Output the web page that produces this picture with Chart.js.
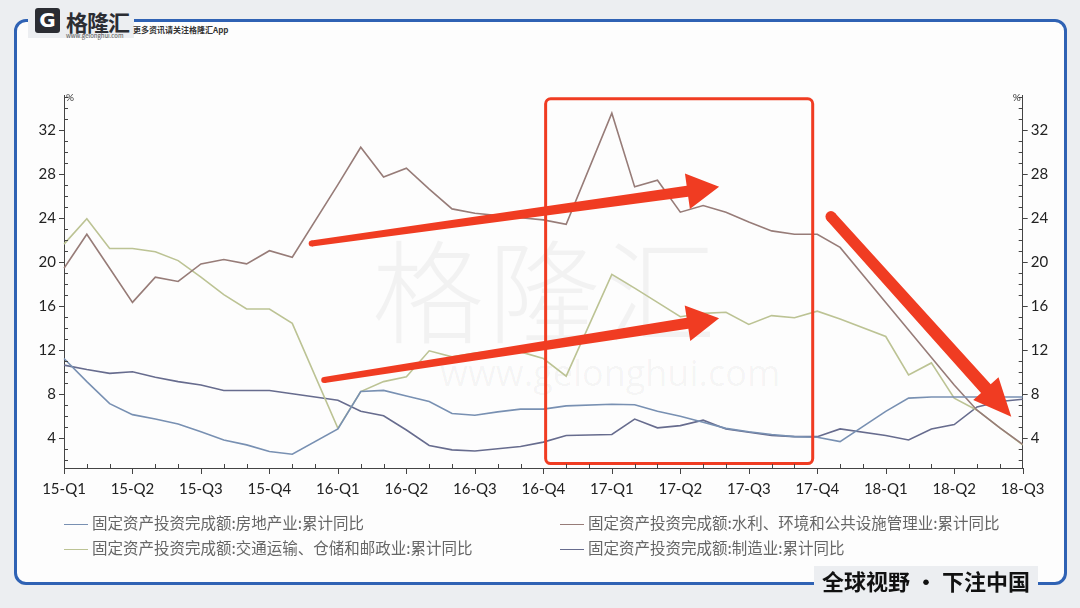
<!DOCTYPE html>
<html lang="zh">
<head>
<meta charset="UTF-8">
<title>固定资产投资完成额 累计同比</title>
<script src="https://cdn.jsdelivr.net/npm/chart.js@4.4.0/dist/chart.umd.min.js"></script>
<style>
  html, body { margin: 0; padding: 0; }
  body { width: 1080px; height: 608px; position: relative; overflow: hidden;
         background: #eceef1; font-family: "Noto Sans CJK SC", "Noto Sans", sans-serif; }
  .frame { position: absolute; left: 14px; top: 19px; width: 1047px; height: 560px;
           border: 3px solid #2f62b4; border-radius: 12px; background: #fdfdfd; }
  .logo { position: absolute; left: 28px; top: 2px; width: 106px; height: 36px; background: #eceef1; }
  .logo .g { position: absolute; left: 7px; top: 6px; width: 25px; height: 25px; background: #2b2d33;
             border-radius: 3px; color: #fff; font: bold 20px/25px "DejaVu Sans", sans-serif; text-align: center; }
  .logo .name { position: absolute; left: 38px; top: 3px; font-size: 22px; font-weight: bold; color: #2b2d33; letter-spacing: -1px; }
  .logo .url { position: absolute; left: 38px; top: 29px; font-size: 6px; color: #555; }
  .tagline { position: absolute; left: 133px; top: 24px; font-size: 8px; font-weight: bold; color: #333; }
  .footer { position: absolute; left: 814px; top: 566px; padding: 0 8px; background: #eceef1;
            font-size: 22px; font-weight: bold; color: #111; line-height: 28px; }
  .wm { position: absolute; color: rgba(0,0,0,0.045); white-space: nowrap; }
  .wm.cn { left: 372px; top: 205px; font-size: 112px; font-weight: 300; letter-spacing: 4px; }
  .wm.en { left: 440px; top: 348px; font-size: 36px; font-family: "Open Sans", sans-serif; }
  #wrap { position: absolute; left: 0; top: 0; width: 1080px; height: 608px; }
  .legend { position: absolute; font-size: 15.5px; color: #666; white-space: nowrap; }
  .legend span.l { display: inline-block; width: 24px; height: 0; border-top: 1.5px solid; vertical-align: middle; margin-right: 4px; }
</style>
</head>
<body>
<div class="frame"></div>
<div class="logo"><div class="g">G</div><div class="name">格隆汇</div><div class="url">www.gelonghui.com</div></div>
<div class="tagline">更多资讯请关注格隆汇App</div>
<div class="wm cn">格隆汇</div>
<div class="wm en">www.gelonghui.com</div>
<div id="wrap"><canvas id="c"></canvas></div>
<div id="legend"></div>
<div class="footer">全球视野 · 下注中国</div>
<script>
// monthly points Feb-2015 .. Aug-2018, January has no figure (null)
const months = [];
for (let y = 2015; y <= 2018; y++) {
  for (let m = 1; m <= 12; m++) {
    if ((y === 2015 && m < 2) || (y === 2018 && m > 8)) continue;
    months.push(y + '-' + String(m).padStart(2, '0'));
  }
}
const quarterLabels = ['15-Q1','15-Q2','15-Q3','15-Q4','16-Q1','16-Q2','16-Q3','16-Q4',
                       '17-Q1','17-Q2','17-Q3','17-Q4','18-Q1','18-Q2','18-Q3'];

const realEstate = [11.2, 9.1, 7.1, 6.1, 5.7, 5.25, 4.55, 3.8, 3.35, 2.75, 2.5, null,
  4.8, 8.2, 8.3, 7.8, 7.3, 6.2, 6.05, 6.35, 6.6, 6.6, 6.9, null,
  7.05, 7.0, 6.4, 5.95, 5.4, 4.85, 4.55, 4.3, 4.1, 4.05, 3.65, null,
  6.4, 7.6, 7.7, 7.7, 7.7, 7.7, 7.7];
const waterEnv = [19.4, 22.5, 19.4, 16.3, 18.6, 18.2, 19.8, 20.2, 19.8, 21.0, 20.4, null,
  27.0, 30.4, 27.7, 28.5, 26.6, 24.8, 24.4, 24.2, 24.0, 23.8, 23.4, null,
  33.5, 26.8, 27.4, 24.5, 25.1, 24.5, 23.6, 22.8, 22.5, 22.5, 21.3, null,
  16.3, 13.8, 11.3, 8.8, 6.5, 4.9, 3.4];
const transport = [21.6, 23.9, 21.2, 21.2, 20.9, 20.1, 18.6, 17.0, 15.7, 15.7, 14.4, null,
  4.85, 8.2, 9.1, 9.55, 11.9, 11.35, 11.7, 11.9, 11.8, 11.2, 9.6, null,
  18.85, 17.6, 16.3, 15.0, 15.3, 15.4, 14.3, 15.1, 14.9, 15.5, 14.8, null,
  13.2, 9.7, 10.8, 7.6, 6.5, 4.9, 3.35];
const manufacturing = [10.6, 10.2, 9.85, 10.0, 9.5, 9.1, 8.8, 8.3, 8.3, 8.3, 8.0, null,
  7.4, 6.4, 6.0, 4.7, 3.3, 2.9, 2.8, 3.0, 3.2, 3.6, 4.2, null,
  4.3, 5.7, 4.9, 5.1, 5.6, 4.8, 4.5, 4.2, 4.1, 4.1, 4.8, null,
  4.2, 3.8, 4.8, 5.2, 6.8, 7.3, 7.5];

const seriesNames = ['固定资产投资完成额:房地产业:累计同比',
                     '固定资产投资完成额:水利、环境和公共设施管理业:累计同比',
                     '固定资产投资完成额:交通运输、仓储和邮政业:累计同比',
                     '固定资产投资完成额:制造业:累计同比'];
const seriesData = [realEstate, waterEnv, transport, manufacturing];
const seriesColors = ['#7890b2', '#977c78', '#bcc394', '#676c8e'];

// hand-drawn red highlights, in (month index, %) units
const box = { x0: 21.1, x1: 32.8, y0: 1.65, y1: 34.8 };
const arrows = [
  { from: [10.85, 21.65], to: [28.7, 26.8], w0: 6, w1: 11, hw: 36, hl: 32 },
  { from: [11.4, 9.25], to: [28.7, 14.85], w0: 6, w1: 11, hw: 36, hl: 32 },
  { from: [33.6, 24.1], to: [41.5, 5.9], w0: 11, w1: 13, hw: 34, hl: 38 }
];
const RED = '#f03c22';

// legend
const legendPos = [[64, 511], [560, 511], [64, 536], [560, 536]];
const legendEl = document.getElementById('legend');
seriesNames.forEach((n, i) => {
  const d = document.createElement('div');
  d.className = 'legend';
  d.style.left = legendPos[i][0] + 'px';
  d.style.top = legendPos[i][1] + 'px';
  d.innerHTML = '<span class="l" style="border-color:' + seriesColors[i] + '"></span>' + n;
  legendEl.appendChild(d);
});

function drawArrow(ctx, x0, y0, x1, y1, w0, w1, hw, hl) {
  const len = Math.hypot(x1 - x0, y1 - y0);
  const ux = (x1 - x0) / len, uy = (y1 - y0) / len;
  const nx = -uy, ny = ux;
  const bx = x1 - ux * hl, by = y1 - uy * hl;
  ctx.beginPath();
  ctx.moveTo(x0 + nx * w0 / 2, y0 + ny * w0 / 2);
  ctx.lineTo(bx + nx * w1 / 2, by + ny * w1 / 2);
  ctx.lineTo(bx + nx * hw / 2, by + ny * hw / 2);
  ctx.lineTo(x1, y1);
  ctx.lineTo(bx - nx * hw / 2, by - ny * hw / 2);
  ctx.lineTo(bx - nx * w1 / 2, by - ny * w1 / 2);
  ctx.lineTo(x0 - nx * w0 / 2, y0 - ny * w0 / 2);
  ctx.closePath();
  ctx.fill();
  ctx.beginPath();
  ctx.arc(x0, y0, w0 / 2, 0, Math.PI * 2);
  ctx.fill();
}

const decor = {
  id: 'decor',
  afterDatasetsDraw(chart) {
    const { ctx, scales: { x, y } } = chart;
    ctx.save();
    ctx.strokeStyle = RED;
    ctx.lineWidth = 3;
    const bx0 = x.getPixelForValue(box.x0), bx1 = x.getPixelForValue(box.x1);
    const by0 = y.getPixelForValue(box.y1), by1 = y.getPixelForValue(box.y0);
    ctx.beginPath();
    ctx.roundRect(bx0, by0, bx1 - bx0, by1 - by0, 5);
    ctx.stroke();
    ctx.fillStyle = RED;
    arrows.forEach(a => {
      drawArrow(ctx, x.getPixelForValue(a.from[0]), y.getPixelForValue(a.from[1]),
        x.getPixelForValue(a.to[0]), y.getPixelForValue(a.to[1]), a.w0, a.w1, a.hw, a.hl);
    });
    ctx.restore();
  },
  afterDraw(chart) {
    const { ctx, chartArea: ca, scales: { x, y } } = chart;
    ctx.save();
    ctx.strokeStyle = '#444';
    ctx.lineWidth = 1;
    ctx.beginPath();
    for (let v = 2; v <= 35; v++) {
      const py = Math.round(y.getPixelForValue(v)) + 0.5;
      if (v % 4 === 0) {
        ctx.moveTo(ca.left - 5, py); ctx.lineTo(ca.left, py);
        ctx.moveTo(ca.right, py); ctx.lineTo(ca.right + 5, py);
      } else {
        ctx.moveTo(ca.left, py); ctx.lineTo(ca.left + 4, py);
        ctx.moveTo(ca.right - 4, py); ctx.lineTo(ca.right, py);
      }
    }
    for (let i = 0; i < months.length; i++) {
      const px = Math.round(x.getPixelForValue(i)) + 0.5;
      if (i % 3 === 0) { ctx.moveTo(px, ca.bottom); ctx.lineTo(px, ca.bottom + 6); }
      else { ctx.moveTo(px, ca.bottom - 4); ctx.lineTo(px, ca.bottom); }
    }
    ctx.stroke();
    ctx.fillStyle = '#333';
    ctx.font = '10px Lato, sans-serif';
    ctx.textBaseline = 'top';
    ctx.textAlign = 'left';
    ctx.fillText('%', ca.left + 2, ca.top - 2);
    ctx.textAlign = 'right';
    ctx.fillText('%', ca.right - 2, ca.top - 2);
    ctx.restore();
  }
};

const yCommon = {
  min: 1.25, max: 35.15,
  grid: { display: true, drawOnChartArea: false, drawTicks: false },
  border: { display: true, color: '#444', width: 1 },
  afterBuildTicks: s => { const t = []; for (let v = 2; v <= 35; v++) t.push({ value: v }); s.ticks = t; },
  ticks: { color: '#222', font: { family: 'Lato', size: 15 }, padding: 8, autoSkip: false,
           callback: v => (v % 4 === 0 ? v : '') }
};

new Chart(document.getElementById('c'), {
  type: 'line',
  data: {
    labels: months,
    datasets: seriesData.map((d, i) => ({
      label: seriesNames[i], data: d, borderColor: seriesColors[i], borderWidth: 1.6,
      pointRadius: 0, tension: 0, spanGaps: true, yAxisID: 'y'
    }))
  },
  options: {
    responsive: true, maintainAspectRatio: false, animation: false,
    layout: { padding: { top: 95, bottom: 100, left: 0, right: 0 } },
    plugins: { legend: { display: false }, tooltip: { enabled: false } },
    scales: {
      x: {
        offset: false,
        grid: { display: true, drawOnChartArea: false, drawTicks: false },
        border: { display: true, color: '#444', width: 1 },
        afterFit: s => { s.height = 40; },
        ticks: { color: '#222', font: { family: 'Lato', size: 15 }, padding: 12, autoSkip: false, maxRotation: 0,
                 callback: (v, i) => (i % 3 === 0 ? quarterLabels[i / 3] : '') }
      },
      y: Object.assign({}, yCommon, { position: 'left', afterFit: s => { s.width = 64; } }),
      y2: Object.assign({}, yCommon, { position: 'right', afterFit: s => { s.width = 57.3; } })
    }
  },
  plugins: [decor]
});
</script>
</body>
</html>
